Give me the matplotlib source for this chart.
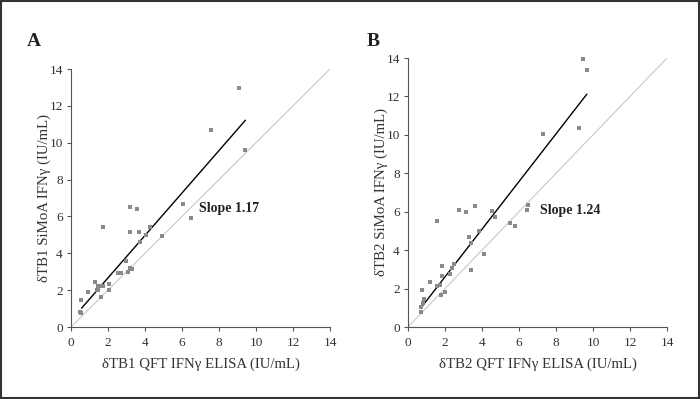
import matplotlib
matplotlib.use("Agg")
import matplotlib.pyplot as plt
from matplotlib.patches import Rectangle

plt.rcParams['font.family'] = ['Liberation Serif', 'DejaVu Serif']

# Panel A data (δTB1)
a_x = [9.06, 7.55, 9.39, 6.05, 6.47, 3.19, 3.57, 3.21, 3.66, 1.71, 4.29, 4.07, 3.71, 4.90,
       2.95, 2.56, 2.72, 3.08, 3.19, 3.32, 1.32, 0.94, 1.48, 1.62, 1.71, 1.39, 1.48, 2.07,
       2.07, 1.60, 0.56, 0.49, 0.54]
a_y = [12.97, 10.70, 9.62, 6.67, 5.91, 6.49, 6.42, 5.17, 5.17, 5.41, 5.42, 4.99, 4.63, 4.92,
       3.60, 2.91, 2.95, 2.98, 3.20, 3.15, 2.46, 1.90, 2.21, 2.21, 2.21, 2.03, 2.03, 2.33,
       2.01, 1.61, 1.48, 0.83, 0.78]
a_fit_x = [0.58, 9.42]
a_fit_y = [1.03, 11.21]
a_slope = "Slope 1.17"

# Panel B data (δTB2)
b_x = [9.45, 9.65, 9.25, 7.28, 2.76, 3.13, 3.63, 4.53, 4.70, 1.59, 6.41, 6.47, 5.53, 5.76,
       3.85, 3.29, 3.40, 4.12, 3.43, 2.49, 2.37, 2.26, 1.86, 1.86, 1.19, 1.55, 1.72, 1.81,
       2.02, 0.74, 0.85, 0.79, 0.69, 0.70]
b_y = [13.93, 13.38, 10.37, 10.02, 6.11, 5.98, 6.28, 6.05, 5.72, 5.50, 6.11, 6.33, 5.40, 5.24,
       4.99, 4.70, 4.35, 3.80, 2.98, 3.28, 3.05, 2.76, 3.16, 2.67, 2.32, 2.15, 2.21, 1.68,
       1.84, 1.93, 1.46, 1.27, 1.04, 0.80]
b_fit_x = [0.72, 9.66]
b_fit_y = [1.02, 12.11]
b_slope = "Slope 1.24"

ticks = [0, 2, 4, 6, 8, 10, 12, 14]

W, H = 700, 399
fig = plt.figure(figsize=(W / 100, H / 100), dpi=100)
fig.patches.append(Rectangle((0.002, 0.003), 0.996, 0.994, transform=fig.transFigure,
                             fill=False, edgecolor='#333333', linewidth=1.5))

def panel(rect, xs, ys, fx, fy, slope_txt, slope_pos, letter, letter_pos, xlabel, ylabel, ylabel_x):
    ax = fig.add_axes(rect)
    ax.plot([0, 14], [0, 14], color='#c8c8c8', lw=0.8, zorder=1)
    ax.plot(fx, fy, color='black', lw=1.0, zorder=2)
    ax.scatter(xs, ys, marker='s', s=5, color='#8a8a8a', linewidths=0, zorder=3, clip_on=False)
    ax.set_xlim(0, 14)
    ax.set_ylim(0, 14)
    ax.set_xticks(ticks)
    ax.set_yticks(ticks)
    for s in ['top', 'right']:
        ax.spines[s].set_visible(False)
    for s in ['left', 'bottom']:
        ax.spines[s].set_color('#555555')
        ax.spines[s].set_linewidth(0.8)
    ax.tick_params(axis='x', direction='out', length=3, width=0.8, color='#555555',
                   labelsize=9.5, labelcolor='#333333', pad=4)
    ax.tick_params(axis='y', direction='out', length=3, width=0.8, color='#555555',
                   labelsize=9.5, labelcolor='#333333', pad=3)
    ax.text(slope_pos[0], slope_pos[1], slope_txt, fontsize=10, fontweight='bold',
            va='center', ha='left', color='#222222')
    ax.set_xlabel(xlabel, fontsize=10.7, color='#333333', labelpad=6)
    fig.text(ylabel_x, rect[1] + rect[3] / 2, ylabel, rotation=90, fontsize=10.7,
             color='#333333', ha='center', va='center')
    fig.text(letter_pos[0], letter_pos[1], letter, fontsize=14, fontweight='bold',
             ha='left', va='center', color='#222222')
    return ax

panel([71 / W, 72 / H, 259 / W, 258 / H], a_x, a_y, a_fit_x, a_fit_y, a_slope, (6.94, 6.42),
      'A', (27 / W, 1 - 41 / H), 'δTB1 QFT IFNγ ELISA (IU/mL)', 'δTB1 SiMoA IFNγ (IU/mL)', 44 / W)
panel([408 / W, 72 / H, 259 / W, 269 / H], b_x, b_y, b_fit_x, b_fit_y, b_slope, (7.14, 6.07),
      'B', (367 / W, 1 - 41 / H), 'δTB2 QFT IFNγ ELISA (IU/mL)', 'δTB2 SiMoA IFNγ (IU/mL)', 381 / W)

fig.savefig('out.png', dpi=100)
